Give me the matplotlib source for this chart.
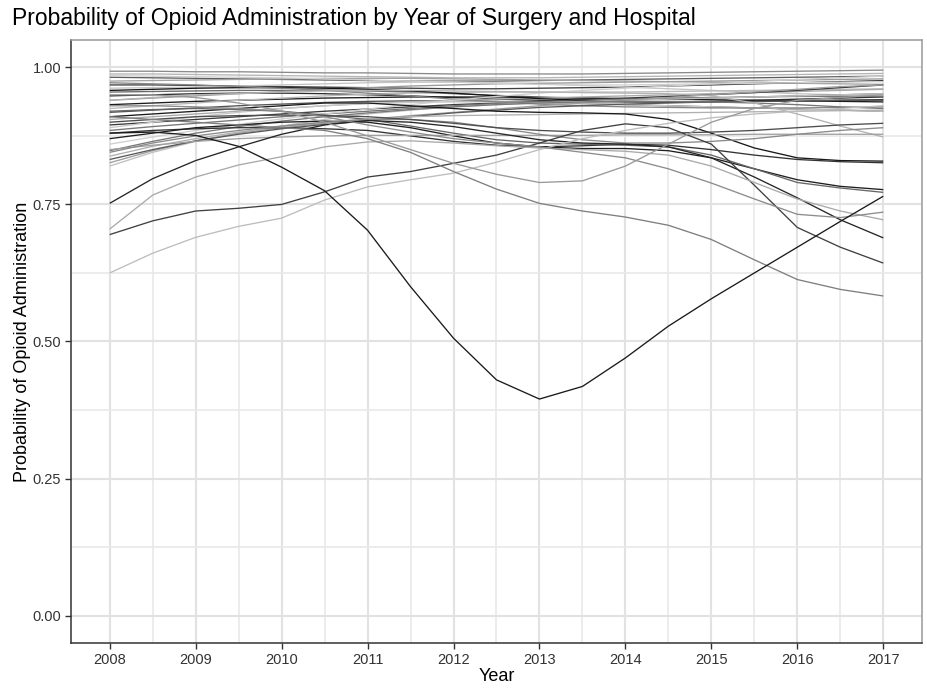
import matplotlib
matplotlib.use("Agg")
import matplotlib.pyplot as plt
from matplotlib.ticker import MultipleLocator

plt.rcParams['font.family'] = ['Liberation Sans', 'DejaVu Sans']

# half-year points of the smoothed probability curves
years = [2008, 2008.5, 2009, 2009.5, 2010, 2010.5, 2011, 2011.5, 2012, 2012.5,
         2013, 2013.5, 2014, 2014.5, 2015, 2015.5, 2016, 2016.5, 2017]

# upper bundle of hospitals
t01 = [0.993, 0.993, 0.992, 0.992, 0.991, 0.990, 0.990, 0.989, 0.988, 0.988, 0.988, 0.988, 0.989, 0.990, 0.991, 0.992, 0.993, 0.994, 0.995]
t02 = [0.988, 0.988, 0.987, 0.986, 0.985, 0.984, 0.983, 0.982, 0.981, 0.981, 0.981, 0.982, 0.983, 0.984, 0.985, 0.986, 0.987, 0.988, 0.989]
t03 = [0.982, 0.981, 0.980, 0.979, 0.978, 0.977, 0.976, 0.975, 0.975, 0.975, 0.976, 0.977, 0.978, 0.979, 0.980, 0.981, 0.982, 0.983, 0.984]
t04 = [0.975, 0.976, 0.977, 0.978, 0.979, 0.980, 0.980, 0.980, 0.979, 0.978, 0.977, 0.976, 0.975, 0.974, 0.973, 0.972, 0.971, 0.970, 0.969]
t05 = [0.968, 0.968, 0.967, 0.966, 0.965, 0.964, 0.963, 0.962, 0.961, 0.961, 0.962, 0.963, 0.964, 0.966, 0.968, 0.970, 0.972, 0.974, 0.976]
t06 = [0.962, 0.963, 0.964, 0.966, 0.968, 0.970, 0.972, 0.973, 0.973, 0.972, 0.970, 0.967, 0.964, 0.961, 0.958, 0.955, 0.952, 0.950, 0.948]
t07 = [0.955, 0.956, 0.957, 0.958, 0.958, 0.958, 0.957, 0.955, 0.952, 0.949, 0.946, 0.944, 0.943, 0.943, 0.944, 0.946, 0.948, 0.950, 0.952]
t08 = [0.948, 0.950, 0.952, 0.953, 0.953, 0.952, 0.950, 0.948, 0.945, 0.942, 0.940, 0.938, 0.937, 0.937, 0.938, 0.940, 0.942, 0.944, 0.946]
t09 = [0.940, 0.944, 0.948, 0.952, 0.956, 0.960, 0.963, 0.966, 0.968, 0.970, 0.971, 0.972, 0.973, 0.974, 0.975, 0.976, 0.977, 0.978, 0.979]
t10 = [0.932, 0.935, 0.938, 0.940, 0.942, 0.944, 0.945, 0.946, 0.946, 0.946, 0.945, 0.944, 0.943, 0.942, 0.941, 0.940, 0.939, 0.938, 0.937]
t11 = [0.925, 0.930, 0.935, 0.940, 0.944, 0.948, 0.951, 0.953, 0.954, 0.955, 0.955, 0.955, 0.955, 0.956, 0.957, 0.958, 0.959, 0.960, 0.961]
t12 = [0.918, 0.922, 0.926, 0.930, 0.933, 0.936, 0.938, 0.939, 0.939, 0.938, 0.936, 0.934, 0.932, 0.930, 0.928, 0.926, 0.924, 0.922, 0.920]
t13 = [0.905, 0.910, 0.915, 0.920, 0.925, 0.930, 0.934, 0.937, 0.940, 0.942, 0.944, 0.946, 0.948, 0.950, 0.952, 0.954, 0.956, 0.958, 0.960]
t14 = [0.895, 0.900, 0.905, 0.910, 0.915, 0.920, 0.924, 0.928, 0.932, 0.935, 0.938, 0.941, 0.944, 0.947, 0.950, 0.954, 0.958, 0.963, 0.968]
t15 = [0.890, 0.900, 0.910, 0.918, 0.925, 0.930, 0.934, 0.936, 0.937, 0.937, 0.936, 0.934, 0.932, 0.930, 0.928, 0.926, 0.924, 0.922, 0.920]
t16 = [0.885, 0.892, 0.898, 0.904, 0.910, 0.915, 0.920, 0.925, 0.930, 0.934, 0.937, 0.940, 0.942, 0.944, 0.945, 0.946, 0.947, 0.947, 0.947]
t17 = [0.958, 0.960, 0.962, 0.963, 0.963, 0.962, 0.960, 0.957, 0.953, 0.948, 0.943, 0.940, 0.938, 0.937, 0.937, 0.938, 0.939, 0.940, 0.941]
t18 = [0.972, 0.970, 0.968, 0.965, 0.962, 0.958, 0.953, 0.948, 0.942, 0.937, 0.933, 0.930, 0.928, 0.927, 0.926, 0.926, 0.926, 0.927, 0.928]
t19 = [0.985, 0.984, 0.983, 0.982, 0.981, 0.979, 0.977, 0.975, 0.973, 0.971, 0.969, 0.968, 0.968, 0.969, 0.970, 0.971, 0.972, 0.973, 0.974]

# hospitals rising from the low 0.8s
r1 = [0.820, 0.845, 0.865, 0.880, 0.893, 0.905, 0.915, 0.922, 0.928, 0.932, 0.935, 0.938, 0.940, 0.942, 0.944, 0.946, 0.948, 0.950, 0.952]
r2 = [0.826, 0.848, 0.866, 0.880, 0.890, 0.898, 0.905, 0.912, 0.918, 0.924, 0.930, 0.935, 0.940, 0.945, 0.950, 0.955, 0.960, 0.965, 0.968]
r3 = [0.832, 0.850, 0.866, 0.878, 0.888, 0.896, 0.903, 0.910, 0.917, 0.922, 0.927, 0.930, 0.933, 0.935, 0.937, 0.938, 0.939, 0.940, 0.940]
r4 = [0.838, 0.856, 0.870, 0.882, 0.892, 0.900, 0.906, 0.910, 0.912, 0.913, 0.914, 0.915, 0.916, 0.917, 0.918, 0.919, 0.920, 0.921, 0.922]
r5 = [0.848, 0.865, 0.880, 0.892, 0.902, 0.910, 0.917, 0.923, 0.928, 0.932, 0.935, 0.937, 0.938, 0.938, 0.937, 0.935, 0.932, 0.928, 0.925]
r6 = [0.860, 0.873, 0.885, 0.896, 0.906, 0.915, 0.924, 0.932, 0.940, 0.947, 0.953, 0.958, 0.962, 0.966, 0.970, 0.974, 0.978, 0.981, 0.984]

# middle group
m1 = [0.910, 0.915, 0.920, 0.925, 0.930, 0.935, 0.935, 0.930, 0.925, 0.920, 0.918, 0.917, 0.915, 0.905, 0.880, 0.853, 0.835, 0.830, 0.829]
m2 = [0.880, 0.885, 0.888, 0.890, 0.890, 0.888, 0.885, 0.875, 0.865, 0.858, 0.855, 0.857, 0.860, 0.858, 0.850, 0.840, 0.832, 0.828, 0.826]
m3 = [0.870, 0.880, 0.890, 0.895, 0.900, 0.902, 0.900, 0.890, 0.875, 0.862, 0.855, 0.852, 0.852, 0.848, 0.835, 0.815, 0.795, 0.783, 0.777]
m4 = [0.920, 0.923, 0.925, 0.923, 0.920, 0.913, 0.905, 0.893, 0.880, 0.868, 0.862, 0.860, 0.858, 0.855, 0.840, 0.815, 0.790, 0.780, 0.772]
m5 = [0.940, 0.945, 0.950, 0.952, 0.955, 0.957, 0.958, 0.958, 0.957, 0.956, 0.955, 0.954, 0.953, 0.952, 0.948, 0.935, 0.915, 0.893, 0.873]
m6 = [0.850, 0.858, 0.865, 0.870, 0.873, 0.875, 0.876, 0.876, 0.876, 0.876, 0.876, 0.876, 0.877, 0.877, 0.877, 0.878, 0.878, 0.878, 0.878]
m7 = [0.845, 0.862, 0.875, 0.885, 0.893, 0.900, 0.905, 0.905, 0.900, 0.890, 0.878, 0.868, 0.862, 0.862, 0.865, 0.870, 0.878, 0.885, 0.890]
m8 = [0.900, 0.905, 0.910, 0.912, 0.913, 0.912, 0.910, 0.905, 0.898, 0.890, 0.885, 0.882, 0.880, 0.880, 0.882, 0.885, 0.890, 0.895, 0.898]

# distinctive low curves
low_b = [0.752, 0.797, 0.830, 0.855, 0.878, 0.895, 0.903, 0.900, 0.892, 0.880, 0.868, 0.862, 0.860, 0.855, 0.835, 0.800, 0.762, 0.722, 0.689]
low_c = [0.695, 0.720, 0.738, 0.743, 0.750, 0.773, 0.800, 0.810, 0.825, 0.840, 0.862, 0.885, 0.897, 0.890, 0.860, 0.785, 0.708, 0.672, 0.643]
low_d = [0.705, 0.767, 0.800, 0.822, 0.837, 0.855, 0.864, 0.866, 0.862, 0.857, 0.853, 0.850, 0.847, 0.840, 0.820, 0.790, 0.760, 0.738, 0.722]
low_e = [0.625, 0.661, 0.690, 0.710, 0.725, 0.758, 0.782, 0.795, 0.807, 0.827, 0.850, 0.870, 0.885, 0.898, 0.908, 0.915, 0.920, 0.925, 0.930]
fall_583 = [0.910, 0.905, 0.900, 0.895, 0.890, 0.885, 0.870, 0.845, 0.810, 0.778, 0.752, 0.738, 0.727, 0.712, 0.686, 0.649, 0.613, 0.595, 0.583]
fall_736 = [0.930, 0.930, 0.928, 0.925, 0.920, 0.910, 0.895, 0.882, 0.870, 0.862, 0.855, 0.845, 0.835, 0.815, 0.789, 0.760, 0.732, 0.726, 0.736]
v_line = [0.950, 0.950, 0.945, 0.935, 0.920, 0.900, 0.875, 0.850, 0.825, 0.805, 0.790, 0.793, 0.820, 0.860, 0.900, 0.925, 0.940, 0.945, 0.950]
dip = [0.880, 0.882, 0.876, 0.856, 0.818, 0.775, 0.703, 0.600, 0.506, 0.430, 0.395, 0.418, 0.470, 0.528, 0.578, 0.625, 0.672, 0.719, 0.765]

series = [t01, t02, t03, t04, t05, t06, t07, t08, t09, t10, t11, t12, t13, t14, t15, t16, t17, t18, t19,
          r1, r2, r3, r4, r5, r6, m1, m2, m3, m4, m5, m6, m7, m8,
          low_b, low_c, low_d, low_e, fall_583, fall_736, v_line, dip]
greys = ['#8a8a8a', '#b5b5b5', '#5e5e5e', '#a3a3a3', '#404040', '#c4c4c4', '#6b6b6b', '#2e2e2e', '#999999', '#1c1c1c',
         '#bababa', '#525252', '#a8a8a8', '#3a3a3a', '#c8c8c8', '#767676', '#141414', '#858585', '#d0d0d0',
         '#c0c0c0', '#9e9e9e', '#595959', '#b0b0b0', '#777777', '#cfcfcf',
         '#1a1a1a', '#333333', '#1f1f1f', '#666666', '#b3b3b3', '#a0a0a0', '#8a8a8a', '#4d4d4d',
         '#262626', '#404040', '#aaaaaa', '#bdbdbd', '#7f7f7f', '#8c8c8c', '#999999', '#1a1a1a']

fig = plt.figure(figsize=(9.28, 6.88), dpi=100)
ax = fig.add_axes([0.0765, 0.0654, 0.917, 0.8765])

for vals, col in zip(series, greys):
    ax.plot(years, vals, color=col, lw=0.95, solid_capstyle='butt', zorder=3)

ax.set_xlim(2007.55, 2017.45)
ax.set_ylim(-0.05, 1.05)
ax.set_xticks(range(2008, 2018))
ax.set_yticks([0, 0.25, 0.5, 0.75, 1.0])
ax.set_yticklabels(['0.00', '0.25', '0.50', '0.75', '1.00'])
ax.xaxis.set_minor_locator(MultipleLocator(0.5))
ax.yaxis.set_minor_locator(MultipleLocator(0.125))
ax.grid(which='major', color='#e2e2e2', lw=1.5, zorder=0)
ax.grid(which='minor', color='#e9e9e9', lw=1.2, zorder=0)
ax.tick_params(which='minor', length=0)
ax.tick_params(which='major', length=4, width=1, color='#333333', labelsize=10.5,
               labelcolor='#333333', pad=3)

for side in ['left', 'bottom']:
    ax.spines[side].set_color('#333333')
    ax.spines[side].set_linewidth(1.1)
for side in ['top', 'right']:
    ax.spines[side].set_color('#999999')
    ax.spines[side].set_linewidth(1.1)

ax.set_xlabel('Year', fontsize=13, labelpad=1)
ax.set_ylabel('Probability of Opioid Administration', fontsize=13, labelpad=1)
fig.text(0.013, 0.973, 'Probability of Opioid Administration by Year of Surgery and Hospital',
         fontsize=16.5, va='center', ha='left')

fig.savefig('out.png', dpi=100, facecolor='white')
